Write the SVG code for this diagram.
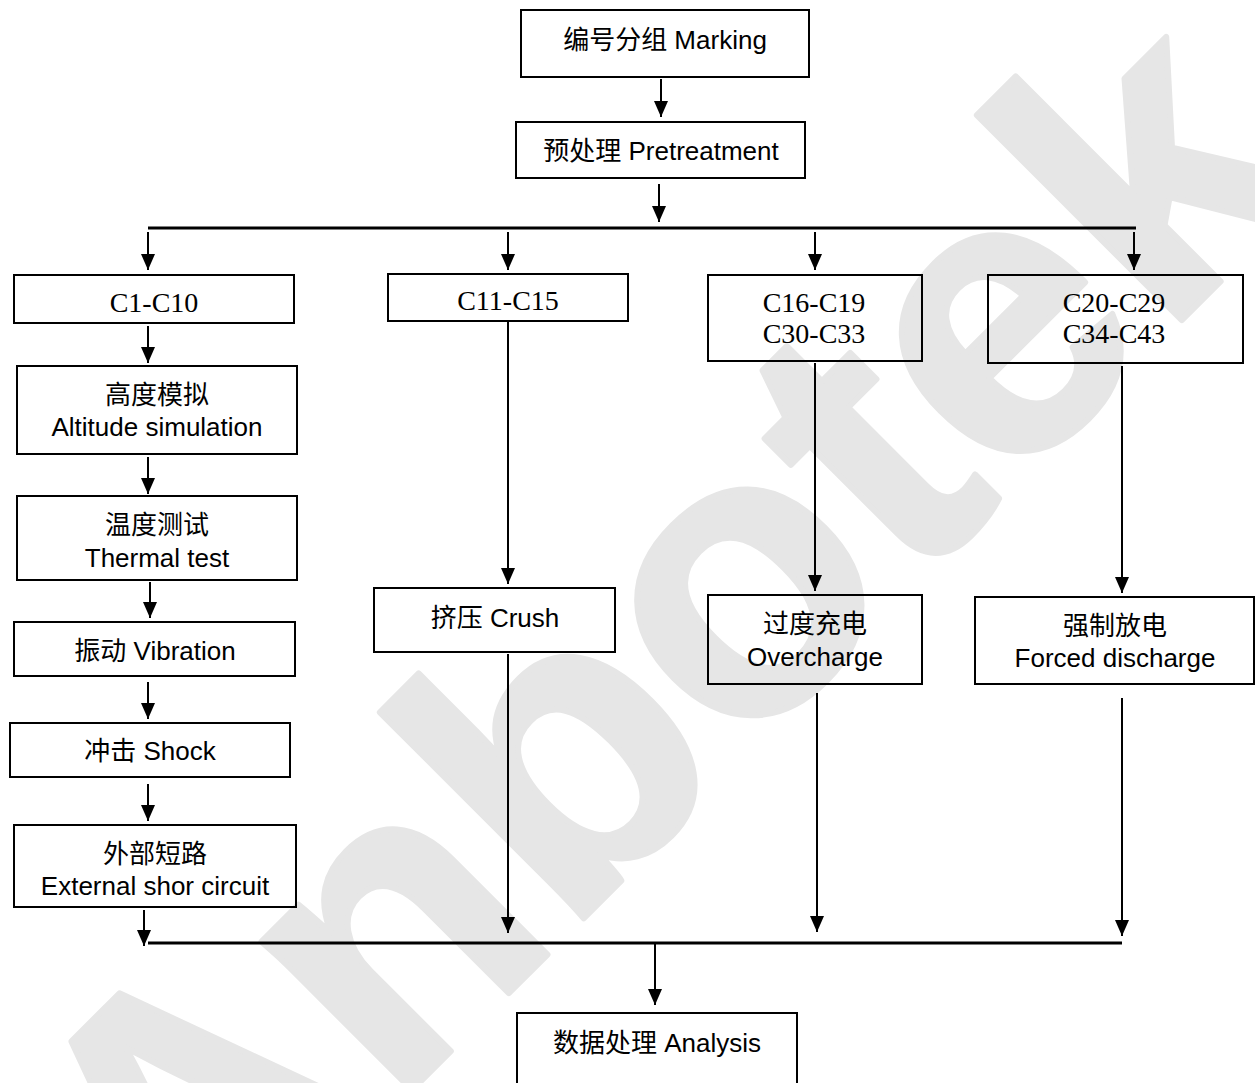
<svg xmlns="http://www.w3.org/2000/svg" width="1255" height="1083" viewBox="0 0 1255 1083">
<defs>
<style>
.box{fill:none;stroke:#000;stroke-width:2}
.t{font-family:"Liberation Sans","Noto Sans CJK SC",sans-serif;font-size:26px;fill:#000;text-anchor:middle}
.c{font-family:"Liberation Serif","Noto Sans CJK SC",serif;font-size:28px;fill:#000;text-anchor:middle}
.arr{stroke:#000;stroke-width:2;fill:none;marker-end:url(#ah)}
.bus{stroke:#000;stroke-width:3;fill:none}
.wm{font-family:"Liberation Sans",sans-serif;font-weight:bold;font-size:400px;fill:#e6e6e6;stroke:#e6e6e6;stroke-width:6;stroke-linejoin:round}
</style>
<marker id="ah" markerUnits="userSpaceOnUse" markerWidth="16" markerHeight="14" refX="16" refY="7" orient="auto">
<path d="M0,0 L16,7 L0,14 z" fill="#000"/>
</marker>
</defs>
<rect x="0" y="0" width="1255" height="1083" fill="#fff"/>
<text class="wm" transform="translate(188,1314) rotate(-45)">Anbotek</text>

<g id="connectors">
<line class="arr" x1="661" y1="79" x2="661" y2="117"/>
<line class="arr" x1="659" y1="184" x2="659" y2="222"/>
<line class="bus" x1="148" y1="228" x2="1136" y2="228"/>
<line class="arr" x1="148" y1="232" x2="148" y2="270"/>
<line class="arr" x1="508" y1="232" x2="508" y2="270"/>
<line class="arr" x1="815" y1="232" x2="815" y2="270"/>
<line class="arr" x1="1134" y1="232" x2="1134" y2="270"/>
<line class="arr" x1="148" y1="326" x2="148" y2="363"/>
<line class="arr" x1="148" y1="457" x2="148" y2="494"/>
<line class="arr" x1="150" y1="582" x2="150" y2="618"/>
<line class="arr" x1="148" y1="682" x2="148" y2="719"/>
<line class="arr" x1="148" y1="784" x2="148" y2="821"/>
<line class="arr" x1="144" y1="910" x2="144" y2="946"/>
<line class="arr" x1="508" y1="321" x2="508" y2="584"/>
<line class="arr" x1="508" y1="654" x2="508" y2="933"/>
<line class="arr" x1="815" y1="363" x2="815" y2="591"/>
<line class="arr" x1="817" y1="693" x2="817" y2="932"/>
<line class="arr" x1="1122" y1="366" x2="1122" y2="593"/>
<line class="arr" x1="1122" y1="698" x2="1122" y2="936"/>
<line class="bus" x1="148" y1="943" x2="1122" y2="943"/>
<line class="arr" x1="655" y1="943" x2="655" y2="1005"/>
</g>

<g id="marking"><rect class="box" x="521" y="10" width="288" height="67"/><text class="t" x="665" y="49">编号分组 Marking</text></g>
<g id="pretreatment"><rect class="box" x="516" y="122" width="289" height="56"/><text class="t" x="661" y="160">预处理 Pretreatment</text></g>
<g id="c1-c10"><rect class="box" x="14" y="275" width="280" height="48"/><text class="c" x="154" y="312">C1-C10</text></g>
<g id="c11-c15"><rect class="box" x="388" y="274" width="240" height="47"/><text class="c" x="508" y="310">C11-C15</text></g>
<g id="c16-c33"><rect class="box" x="708" y="275" width="214" height="86"/><text class="c" x="814" y="312">C16-C19</text><text class="c" x="814" y="343">C30-C33</text></g>
<g id="c20-c43"><rect class="box" x="988" y="275" width="255" height="88"/><text class="c" x="1114" y="312">C20-C29</text><text class="c" x="1114" y="343">C34-C43</text></g>
<g id="altitude"><rect class="box" x="17" y="366" width="280" height="88"/><text class="t" x="157" y="404">高度模拟</text><text class="t" x="157" y="436">Altitude simulation</text></g>
<g id="thermal"><rect class="box" x="17" y="496" width="280" height="84"/><text class="t" x="157" y="534">温度测试</text><text class="t" x="157" y="567">Thermal test</text></g>
<g id="vibration"><rect class="box" x="14" y="622" width="281" height="54"/><text class="t" x="155" y="660">振动 Vibration</text></g>
<g id="shock"><rect class="box" x="10" y="723" width="280" height="54"/><text class="t" x="150" y="760">冲击 Shock</text></g>
<g id="external"><rect class="box" x="14" y="825" width="282" height="82"/><text class="t" x="155" y="863">外部短路</text><text class="t" x="155" y="895">External shor circuit</text></g>
<g id="crush"><rect class="box" x="374" y="588" width="241" height="64"/><text class="t" x="495" y="627">挤压 Crush</text></g>
<g id="overcharge"><rect class="box" x="708" y="595" width="214" height="89"/><text class="t" x="815" y="633">过度充电</text><text class="t" x="815" y="666">Overcharge</text></g>
<g id="forced"><rect class="box" x="975" y="597" width="279" height="87"/><text class="t" x="1115" y="635">强制放电</text><text class="t" x="1115" y="667">Forced discharge</text></g>
<g id="analysis"><rect class="box" x="517" y="1013" width="280" height="80"/><text class="t" x="657" y="1052">数据处理 Analysis</text></g>
</svg>
